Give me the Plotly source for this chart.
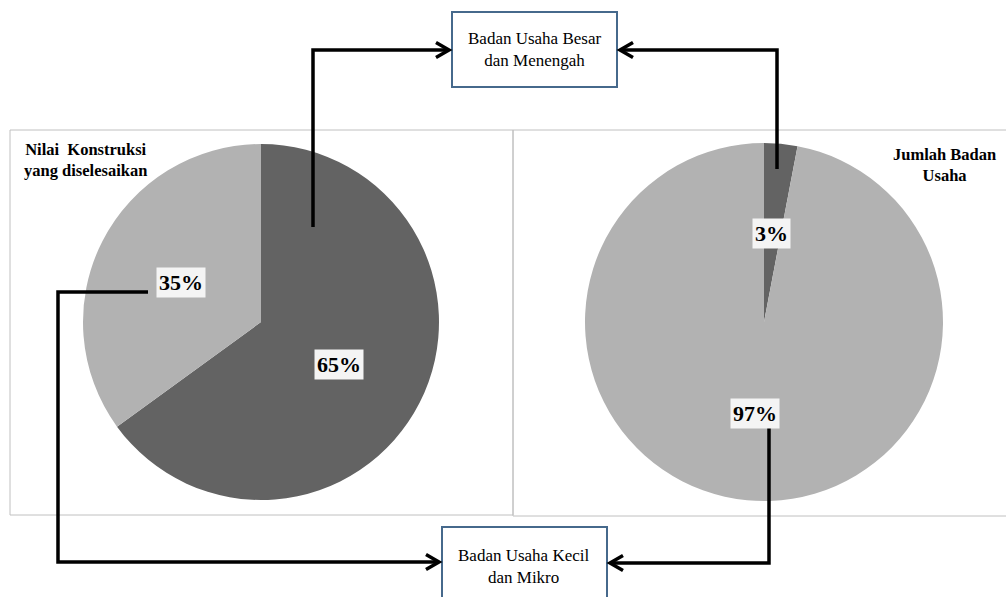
import plotly.graph_objects as go

W, H = 1006, 597

# ---- data ----
pie_titles = ["Nilai  Konstruksi<br>yang diselesaikan", "Jumlah Badan<br>Usaha"]
categories = ["Badan Usaha Besar dan Menengah", "Badan Usaha Kecil dan Mikro"]
nilai_konstruksi = [65, 35]
jumlah_badan_usaha = [3, 97]
box_labels = ["Badan Usaha Besar<br>dan Menengah", "Badan Usaha Kecil<br>dan Mikro"]

DARK = "#636363"
LIGHT = "#b2b2b2"
FONT = "Liberation Serif"


def px(x):
    return x / W


def py(y):
    return 1 - y / H


fig = go.Figure()

# pies
fig.add_trace(go.Pie(
    labels=categories, values=nilai_konstruksi, sort=False, direction="clockwise",
    rotation=0, marker=dict(colors=[DARK, LIGHT], line=dict(width=0)),
    textinfo="none", hoverinfo="label+percent",
    domain=dict(x=[px(83), px(439)], y=[py(500), py(144)]),
))
fig.add_trace(go.Pie(
    labels=categories, values=jumlah_badan_usaha, sort=False, direction="clockwise",
    rotation=0, marker=dict(colors=[DARK, LIGHT], line=dict(width=0)),
    textinfo="none", hoverinfo="label+percent",
    domain=dict(x=[px(585), px(943)], y=[py(501), py(143)]),
))

shapes = []
# panel frames
shapes.append(dict(type="rect", xref="paper", yref="paper", x0=px(10), x1=px(513),
                   y0=py(515), y1=py(130), line=dict(color="#c0c0c0", width=1), layer="below"))
shapes.append(dict(type="rect", xref="paper", yref="paper", x0=px(513), x1=px(1010),
                   y0=py(516), y1=py(130), line=dict(color="#c0c0c0", width=1), layer="below"))
# category boxes
shapes.append(dict(type="rect", xref="paper", yref="paper", x0=px(452), x1=px(617),
                   y0=py(87), y1=py(12), line=dict(color="#46698c", width=2), fillcolor="white"))
shapes.append(dict(type="rect", xref="paper", yref="paper", x0=px(442), x1=px(607),
                   y0=py(605), y1=py(527), line=dict(color="#46698c", width=2), fillcolor="white"))


def poly(points):
    d = "M " + " L ".join(f"{px(x):.5f},{py(y):.5f}" for x, y in points)
    return dict(type="path", xref="paper", yref="paper", path=d,
                line=dict(color="black", width=3.5), layer="above")


def chevron(x, y, direction):
    s = 1 if direction == "right" else -1
    return poly([(x - s * 13, y - 7.5), (x, y), (x - s * 13, y + 7.5)])


# connectors
shapes.append(poly([(313, 227), (313, 50), (449, 50)]))
shapes.append(chevron(449, 50, "right"))
shapes.append(poly([(777, 169), (777, 50), (620, 50)]))
shapes.append(chevron(620, 50, "left"))
shapes.append(poly([(148, 292), (58, 292), (58, 562), (439, 562)]))
shapes.append(chevron(439, 562, "right"))
shapes.append(poly([(769, 427), (769, 563), (610, 563)]))
shapes.append(chevron(610, 563, "left"))

annotations = []


def lab(x, y, text, size, bold=False, bg=None, align="center"):
    annotations.append(dict(
        x=px(x), y=py(y), xref="paper", yref="paper", text=f"<b>{text}</b>" if bold else text,
        showarrow=False, xanchor="center", yanchor="middle", align=align,
        font=dict(family=FONT, size=size, color="black"),
        bgcolor=bg, borderpad=2 if bg else 0,
    ))


# percentage labels
lab(181, 282, f"{nilai_konstruksi[1]}%", 22, bold=True, bg="#f4f4f4")
lab(339, 364, f"{nilai_konstruksi[0]}%", 22, bold=True, bg="#f4f4f4")
lab(771, 234, f"{jumlah_badan_usaha[0]}%", 22, bold=True, bg="#f4f4f4")
lab(755, 413, f"{jumlah_badan_usaha[1]}%", 22, bold=True, bg="#f4f4f4")

# panel titles
lab(85, 160, pie_titles[0], 16.5, bold=True)
lab(944, 165, pie_titles[1], 16.5, bold=True)

# box labels
lab(534, 50, box_labels[0], 17)
lab(524, 566, box_labels[1], 17)

fig.update_layout(
    width=W, height=H, margin=dict(l=0, r=0, t=0, b=0),
    paper_bgcolor="white", plot_bgcolor="white", showlegend=False,
    shapes=shapes, annotations=annotations,
    font=dict(family=FONT),
)

fig.write_html("out.html", config={"displayModeBar": False})
